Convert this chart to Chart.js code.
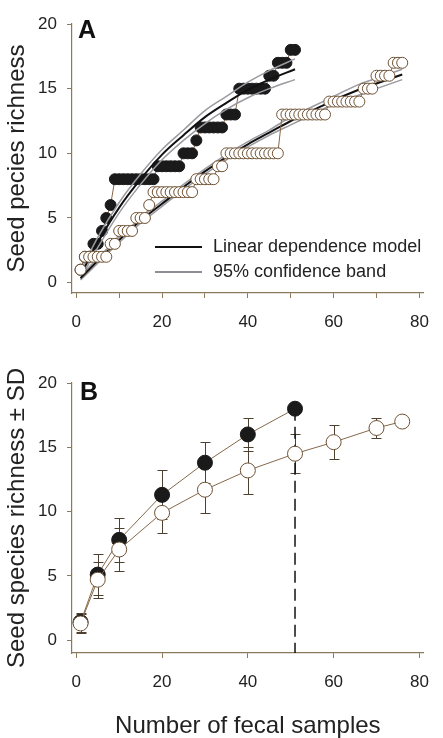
<!DOCTYPE html>
<html>
<head>
<meta charset="utf-8">
<script src="https://cdn.jsdelivr.net/npm/chart.js@4.4.1/dist/chart.umd.min.js"></script>
<style>
  html, body { margin: 0; padding: 0; background: #fff; }
  #wrapA { position: absolute; left: 0; top: 0; width: 443px; height: 330px; }
  #wrapB { position: absolute; left: 0; top: 330px; width: 443px; height: 408px; }
</style>
</head>
<body>
<div id="wrapA"><canvas id="chartA" width="443" height="330"></canvas></div>
<div id="wrapB"><canvas id="chartB" width="443" height="408"></canvas></div>
<script>
// Panel A: cumulative species, one value per fecal sample (sample n = index + 1)
const filledRich = [1, 2, 2, 3, 3, 4, 5, 6,
  8, 8, 8, 8, 8, 8, 8, 8, 8, 8,
  9, 9, 9, 9, 9, 9,
  10, 10, 10, 11,
  12, 12, 12, 12, 12, 12,
  13, 13, 13,
  15, 15, 15, 15, 15, 15, 15,
  16, 16, 17, 17, 17, 18, 18];
const openRich = [1, 2, 2, 2, 2, 2, 2, 3, 3,
  4, 4, 4, 4, 5, 5, 5, 6,
  7, 7, 7, 7, 7, 7, 7, 7, 7, 7,
  8, 8, 8, 8, 8, 9, 9,
  10, 10, 10, 10, 10, 10, 10, 10, 10, 10, 10, 10, 10,
  13, 13, 13, 13, 13, 13, 13, 13, 13, 13, 13,
  14, 14, 14, 14, 14, 14, 14, 14,
  15, 15, 15, 16, 16, 16, 16, 17, 17, 17];

// fitted linear dependence model and 95% band
const fitFilledX = [1, 5, 10, 15, 20, 25, 30, 35, 40, 45, 51];
const fitFilled = [0.6, 3.1, 5.8, 8.0, 9.9, 11.4, 12.8, 13.9, 14.9, 15.7, 16.5];
const fitFilledLo = [0.3, 2.7, 5.4, 7.6, 9.5, 11.0, 12.3, 13.4, 14.3, 15.0, 15.7];
const fitFilledHi = [0.9, 3.5, 6.2, 8.4, 10.3, 11.8, 13.3, 14.4, 15.5, 16.4, 17.3];
const fitOpenX = [1, 5, 10, 15, 20, 25, 30, 35, 40, 45, 50, 55, 60, 65, 70, 76];
const fitOpen = [0.35, 1.7, 3.3, 4.8, 6.1, 7.4, 8.6, 9.7, 10.7, 11.6, 12.5, 13.3, 14.1, 14.8, 15.4, 16.1];
const fitOpenLo = [0.2, 1.5, 3.1, 4.6, 5.9, 7.2, 8.4, 9.5, 10.5, 11.4, 12.2, 13.0, 13.8, 14.4, 15.0, 15.7];
const fitOpenHi = [0.5, 1.9, 3.5, 5.0, 6.3, 7.6, 8.8, 9.9, 10.9, 11.8, 12.8, 13.6, 14.4, 15.2, 15.8, 16.5];

// Panel B: mean richness +- SD
const bSamplesFilled = [1, 5, 10, 20, 30, 40, 51];
const bFilled = [1.4, 5.1, 7.8, 11.3, 13.8, 16.0, 18.0];
const bFilledSD = [0.75, 1.6, 1.7, 1.9, 1.6, 1.3, 0];
const bSamplesOpen = [1, 5, 10, 20, 30, 40, 51, 60, 70, 76];
const bOpen = [1.3, 4.7, 7.05, 9.9, 11.7, 13.2, 14.5, 15.4, 16.5, 17.0];
const bOpenSD = [0.75, 1.4, 1.7, 1.6, 1.8, 1.8, 1.5, 1.3, 0.8, 0];

const xTicksA = [0, 10, 20, 30, 40, 50, 60, 70, 80];
const xTicksB = [0, 20, 40, 60, 80];
const yTicks = [0, 5, 10, 15, 20];

const axisColor = '#8a7a5c';
const brown = '#86684a';
const textColor = '#222';
const font = 'Liberation Sans, Arial, sans-serif';

Chart.defaults.font.family = font;
Chart.defaults.color = textColor;

const pts = (xs, ys) => xs.map((x, i) => ({x: x, y: ys[i]}));
const seq = ys => ys.map((y, i) => ({x: i + 1, y: y}));

function xAxis(ticks, labelEvery, height, title) {
  return {
    type: 'linear', min: -1, max: 81,
    afterBuildTicks: s => { s.ticks = ticks.map(v => ({value: v})); },
    afterFit: s => { s.height = height; },
    ticks: {
      font: {size: 17}, color: textColor, padding: 14, maxRotation: 0, autoSkip: false,
      callback: v => (v % labelEvery === 0 ? v : '')
    },
    grid: {drawOnChartArea: false, tickLength: 5, color: axisColor},
    border: {color: axisColor, width: 1.2},
    title: title ? {display: true, text: title, font: {size: 24}, color: textColor, padding: {top: 0, bottom: -3}} : {display: false}
  };
}

function yAxis(min, title) {
  return {
    min: min, max: 20,
    afterBuildTicks: s => { s.ticks = yTicks.map(v => ({value: v})); },
    afterFit: s => { s.width = 72; },
    ticks: {font: {size: 17}, color: textColor, padding: 10},
    grid: {drawOnChartArea: false, tickLength: 5, color: axisColor},
    border: {color: axisColor, width: 1.2},
    title: {display: true, text: title, font: {size: 24}, color: textColor, padding: {top: 3, bottom: 0}}
  };
}

const panelA = {
  id: 'panelA',
  afterDraw(chart) {
    const ctx = chart.ctx;
    ctx.save();
    ctx.fillStyle = '#111';
    ctx.font = 'bold 25px ' + font;
    ctx.textBaseline = 'alphabetic';
    ctx.fillText('A', 78, 38);
    // legend
    ctx.lineWidth = 2;
    ctx.strokeStyle = '#111';
    ctx.beginPath(); ctx.moveTo(155, 247); ctx.lineTo(202, 247); ctx.stroke();
    ctx.strokeStyle = '#8e8e96';
    ctx.beginPath(); ctx.moveTo(155, 272); ctx.lineTo(202, 272); ctx.stroke();
    ctx.fillStyle = textColor;
    ctx.font = '18px ' + font;
    ctx.textBaseline = 'middle';
    ctx.fillText('Linear dependence model', 213, 247);
    ctx.fillText('95% confidence band', 213, 272);
    ctx.restore();
  }
};

const fitLine = (data, color, width, order) => ({
  data: data, borderColor: color, borderWidth: width, pointRadius: 0,
  cubicInterpolationMode: 'monotone', fill: false, order: order
});

new Chart(document.getElementById('chartA'), {
  type: 'line',
  data: {
    datasets: [
      {data: seq(openRich), borderColor: brown, borderWidth: 1, pointRadius: 5.5,
       pointBackgroundColor: '#fff', pointBorderColor: '#6e5133', pointBorderWidth: 1, order: 0},
      fitLine(pts(fitOpenX, fitOpen), '#111', 2, 1),
      fitLine(pts(fitOpenX, fitOpenLo), '#9a9aa0', 1.5, 2),
      fitLine(pts(fitOpenX, fitOpenHi), '#9a9aa0', 1.5, 2),
      fitLine(pts(fitFilledX, fitFilled), '#111', 2, 1),
      fitLine(pts(fitFilledX, fitFilledLo), '#9a9aa0', 1.5, 2),
      fitLine(pts(fitFilledX, fitFilledHi), '#9a9aa0', 1.5, 2),
      {data: seq(filledRich), borderColor: brown, borderWidth: 1, pointRadius: 5.5,
       pointBackgroundColor: '#1a1a1a', pointBorderColor: '#1a1a1a', pointBorderWidth: 1, order: 5}
    ]
  },
  options: {
    responsive: false, animation: false,
    layout: {padding: {top: 24, right: 13, left: 0, bottom: 0}},
    plugins: {legend: {display: false}, tooltip: {enabled: false}},
    scales: {x: xAxis(xTicksA, 20, 37, null), y: yAxis(-0.8, 'Seed pecies richness')}
  },
  plugins: [panelA]
});

const panelB = {
  id: 'panelB',
  beforeDatasetsDraw(chart) {
    const {ctx, scales: {x, y}} = chart;
    ctx.save();
    ctx.strokeStyle = '#4e4030';
    ctx.lineWidth = 1;
    [[bSamplesFilled, bFilled, bFilledSD], [bSamplesOpen, bOpen, bOpenSD]].forEach(([xs, ms, sds]) => {
      xs.forEach((n, i) => {
        if (!sds[i]) return;
        const px = Math.round(x.getPixelForValue(n)) + 0.5;
        const top = Math.round(y.getPixelForValue(ms[i] + sds[i])) + 0.5;
        const bot = Math.round(y.getPixelForValue(ms[i] - sds[i])) + 0.5;
        ctx.beginPath();
        ctx.moveTo(px, top); ctx.lineTo(px, bot);
        ctx.moveTo(px - 5, top); ctx.lineTo(px + 5, top);
        ctx.moveTo(px - 5, bot); ctx.lineTo(px + 5, bot);
        ctx.stroke();
      });
    });
    ctx.restore();
  },
  afterDraw(chart) {
    const ctx = chart.ctx;
    ctx.save();
    ctx.fillStyle = '#111';
    ctx.font = 'bold 25px ' + font;
    ctx.textBaseline = 'alphabetic';
    ctx.fillText('B', 80, 70);
    ctx.restore();
  }
};

const lastN = bSamplesFilled[bSamplesFilled.length - 1];
const lastS = bFilled[bFilled.length - 1];

new Chart(document.getElementById('chartB'), {
  type: 'line',
  data: {
    datasets: [
      {data: pts(bSamplesOpen, bOpen), borderColor: brown, borderWidth: 1, pointRadius: 7.5,
       pointBackgroundColor: '#fff', pointBorderColor: '#6e5133', pointBorderWidth: 1, order: 0},
      {data: pts(bSamplesFilled, bFilled), borderColor: brown, borderWidth: 1, pointRadius: 7.5,
       pointBackgroundColor: '#1a1a1a', pointBorderColor: '#1a1a1a', pointBorderWidth: 1, order: 1},
      {data: [{x: lastN, y: lastS}, {x: lastN, y: -1}], borderColor: '#111', borderWidth: 1.5,
       borderDash: [12, 6], pointRadius: 0, order: 2}
    ]
  },
  options: {
    responsive: false, animation: false,
    layout: {padding: {top: 53, right: 13, left: 0, bottom: 0}},
    plugins: {legend: {display: false}, tooltip: {enabled: false}},
    scales: {x: xAxis(xTicksB, 20, 85, 'Number of fecal samples'), y: yAxis(-1, 'Seed species richness ± SD')}
  },
  plugins: [panelB]
});
</script>
</body>
</html>
